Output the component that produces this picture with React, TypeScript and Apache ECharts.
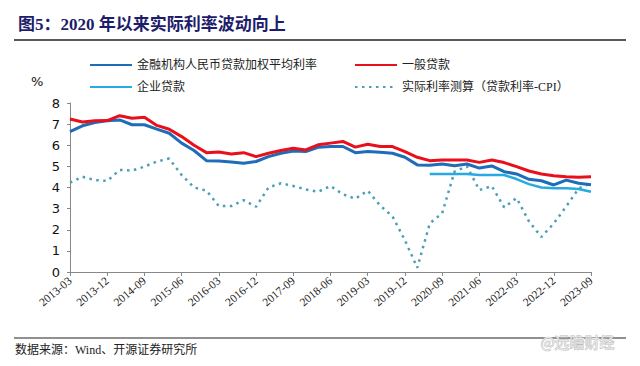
import React, { useEffect, useRef } from "react";
import * as echarts from "echarts";

const categories: string[] = [];
for (let y = 2013; y <= 2023; y++) {
  for (const m of ["03", "06", "09", "12"]) {
    if (y === 2023 && m === "12") continue;
    categories.push(`${y}-${m}`);
  }
}

const weightedAvg = [6.65, 6.92, 7.08, 7.16, 7.2, 6.97, 6.97, 6.76, 6.57, 6.1, 5.75, 5.27, 5.26, 5.21, 5.15, 5.23, 5.46, 5.62, 5.73, 5.7, 5.9, 5.94, 5.94, 5.65, 5.7, 5.67, 5.62, 5.43, 5.07, 5.05, 5.11, 5.03, 5.11, 4.92, 5.02, 4.75, 4.64, 4.39, 4.32, 4.12, 4.35, 4.2, 4.13];
const generalLoan = [7.24, 7.1, 7.16, 7.17, 7.4, 7.28, 7.33, 6.94, 6.76, 6.41, 6.0, 5.65, 5.68, 5.59, 5.65, 5.46, 5.62, 5.75, 5.86, 5.78, 6.02, 6.1, 6.18, 5.91, 6.05, 5.94, 5.94, 5.7, 5.43, 5.27, 5.3, 5.3, 5.3, 5.19, 5.3, 5.18, 4.99, 4.78, 4.64, 4.56, 4.51, 4.48, 4.51];
const corporateLoan: (number | null)[] = [null, null, null, null, null, null, null, null, null, null, null, null, null, null, null, null, null, null, null, null, null, null, null, null, null, null, null, null, null, 4.64, 4.64, 4.64, 4.64, 4.59, 4.59, 4.59, 4.4, 4.16, 4.0, 3.96, 3.96, 3.93, 3.8];
const realRate = [4.23, 4.51, 4.35, 4.31, 4.83, 4.8, 4.99, 5.23, 5.37, 4.59, 4.0, 3.85, 3.12, 3.12, 3.4, 3.09, 4.0, 4.2, 4.07, 3.91, 3.8, 4.07, 3.68, 3.47, 3.85, 3.15, 2.63, 1.5, 0.2, 2.3, 2.78, 4.75, 5.0, 3.88, 4.07, 3.06, 3.5, 2.4, 1.66, 2.3, 3.1, 3.95, 4.2];

const names = ["金融机构人民币贷款加权平均利率", "一般贷款", "企业贷款", "实际利率测算（贷款利率-CPI）"];

const serif = "'Liberation Serif', 'DejaVu Serif', 'Noto Sans CJK SC', serif";

export default function App() {
  const ref = useRef<HTMLDivElement>(null);
  useEffect(() => {
    if (!ref.current) return;
    const chart = echarts.init(ref.current, null, { renderer: "svg" });
    const legendText = { fontFamily: serif, fontSize: 12, color: "#222" };
    const legendCommon = {
      top: 54, orient: "vertical", itemGap: 10, itemWidth: 42, itemHeight: 10,
      textStyle: legendText, itemStyle: { opacity: 0 },
    };
    chart.setOption({
      animation: false,
      backgroundColor: "#fff",
      title: {
        text: "图5：2020 年以来实际利率波动向上",
        left: 13,
        top: 11,
        textStyle: { fontFamily: serif, fontSize: 17, fontWeight: "bold", color: "#1d1d6b" },
      },
      legend: [
        { ...legendCommon, left: 84, data: [names[0], names[2]] },
        { ...legendCommon, left: 349, data: [names[1], names[3]] },
      ],
      grid: { left: 70, right: 49, top: 103, bottom: 94, containLabel: false },
      xAxis: {
        type: "category",
        data: categories,
        boundaryGap: false,
        axisLine: { lineStyle: { color: "#888", width: 1 } },
        axisTick: { interval: 2, length: 4, lineStyle: { color: "#888" } },
        axisLabel: { interval: 2, rotate: 40, fontFamily: serif, fontSize: 11.5, color: "#222", margin: 7 },
      },
      yAxis: {
        type: "value",
        min: 0,
        max: 8,
        interval: 1,
        splitLine: { show: false },
        axisLine: { show: true, lineStyle: { color: "#888" } },
        axisTick: { show: true, length: 3, lineStyle: { color: "#888" } },
        axisLabel: { fontFamily: "'DejaVu Sans', sans-serif", fontSize: 13, color: "#111", margin: 10 },
      },
      graphic: [
        { type: "text", left: 31, top: 75, style: { text: "%", fontFamily: "'DejaVu Sans', sans-serif", fontSize: 13, fill: "#111" } },
        { type: "line", shape: { x1: 14, y1: 40, x2: 626, y2: 40 }, style: { stroke: "#222", lineWidth: 1.5 } },
        { type: "line", shape: { x1: 14, y1: 338, x2: 626, y2: 338 }, style: { stroke: "#222", lineWidth: 1.2 } },
        { type: "text", left: 15, top: 344, style: { text: "数据来源：Wind、开源证券研究所", fontFamily: serif, fontSize: 12, fill: "#222" } },
        { type: "text", left: 540, top: 334, style: { text: "@远瞻财经", fontFamily: "'Noto Sans CJK SC', sans-serif", fontSize: 15, fill: "#e6e6e6", stroke: "#bbb", lineWidth: 0.8 } },
      ],
      series: [
        { name: names[0], type: "line", data: weightedAvg, symbol: "none", lineStyle: { color: "#1f6cb8", width: 3 }, itemStyle: { color: "#1f6cb8" }, z: 3 },
        { name: names[1], type: "line", data: generalLoan, symbol: "none", lineStyle: { color: "#e8101a", width: 3 }, itemStyle: { color: "#e8101a" }, z: 4 },
        { name: names[2], type: "line", data: corporateLoan, symbol: "none", lineStyle: { color: "#27a9e1", width: 2.5 }, itemStyle: { color: "#27a9e1" }, z: 2 },
        { name: names[3], type: "line", data: realRate, symbol: "none", lineStyle: { color: "#4a9fb8", width: 2.5, type: [2.5, 4.5] }, itemStyle: { color: "#4a9fb8" }, z: 1 },
      ],
    });
    return () => chart.dispose();
  }, []);
  return <div ref={ref} style={{ width: 640, height: 366, position: "absolute", left: 0, top: 0 }} />;
}
